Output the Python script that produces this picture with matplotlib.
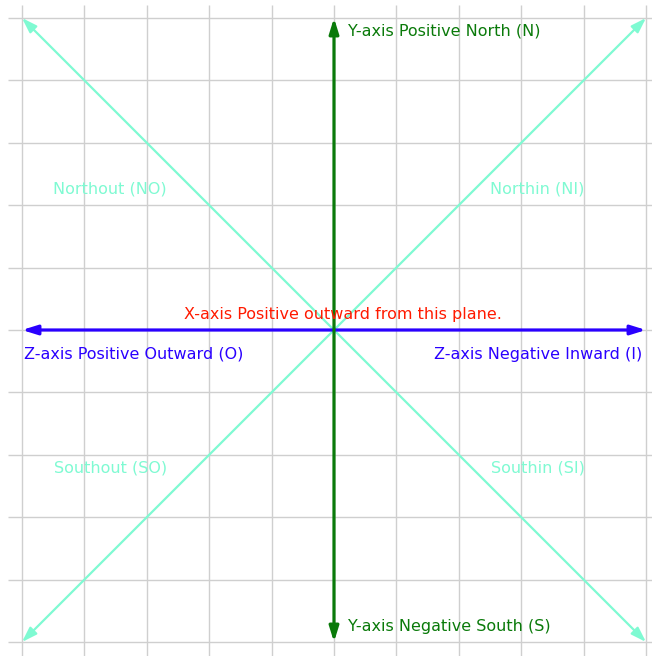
import numpy as np
import matplotlib
matplotlib.use('Agg')
from matplotlib import pyplot as plt
from matplotlib.patches import FancyArrowPatch

# grid positions (one unit = one grid cell)
grid_ticks = np.arange(-5, 6)

# axis arrows: (x0, y0, x1, y1)
z_axis = [-5, 0, 5, 0]
y_axis = [0, -5, 0, 5]
diag_out_north = [-5, 5, 5, -5]
diag_out_south = [-5, -5, 5, 5]

# labels
y_labels = ['Y-axis Positive North (N)', 'Y-axis Negative South (S)']
z_labels = ['Z-axis Positive Outward (O)', 'Z-axis Negative Inward (I)']
x_label = 'X-axis Positive outward from this plane.'
quad_labels = ['Northout (NO)', 'Northin (NI)', 'Southout (SO)', 'Southin (SI)']

u = 62.4  # pixels per grid unit
fig = plt.figure(figsize=(6.52, 6.56), dpi=100)
ax = fig.add_axes([0, 0, 1, 1])
ax.set_xlim(-334 / u, 318 / u)
ax.set_ylim(-326 / u, 330 / u)
ax.axis('off')

gray = '#cfcfcf'
ax.vlines(grid_ticks, -6, 325 / u, color=gray, lw=1, zorder=1)
ax.hlines(grid_ticks, -326 / u, 6, color=gray, lw=1, zorder=1)

green = '#0a7a0a'
blue = '#2a00ff'
cyan = '#7ffad2'
red = '#ff1a00'


def arrow(seg, color, lw, hl, hw):
    a = FancyArrowPatch((seg[0], seg[1]), (seg[2], seg[3]),
                        arrowstyle='<|-|>,head_length=%s,head_width=%s' % (hl, hw),
                        mutation_scale=10, color=color, lw=lw,
                        shrinkA=0, shrinkB=0, zorder=3)
    ax.add_patch(a)


arrow(diag_out_north, cyan, 1.6, 0.9, 0.3)
arrow(diag_out_south, cyan, 1.6, 0.9, 0.3)
arrow(z_axis, blue, 2.3, 0.9, 0.28)
arrow(y_axis, green, 2.3, 0.9, 0.28)

fs = 11.5
ax.text(14 / u, 299 / u, y_labels[0], color=green, fontsize=fs, ha='left', va='center', zorder=4)
ax.text(14 / u, -297 / u, y_labels[1], color=green, fontsize=fs, ha='left', va='center', zorder=4)
ax.text(-310 / u, -24 / u, z_labels[0], color=blue, fontsize=fs, ha='left', va='center', zorder=4)
ax.text(308 / u, -24 / u, z_labels[1], color=blue, fontsize=fs, ha='right', va='center', zorder=4)
ax.text(9 / u, 16 / u, x_label, color=red, fontsize=fs, ha='center', va='center', zorder=4)

quad_x = [-224 / u, 203 / u, -223 / u, 204 / u]
quad_y = [141 / u, 141 / u, -138 / u, -138 / u]
for t, qx, qy in zip(quad_labels, quad_x, quad_y):
    ax.text(qx, qy, t, color=cyan, fontsize=fs, ha='center', va='center', zorder=4)

fig.savefig('out.png', dpi=100)
